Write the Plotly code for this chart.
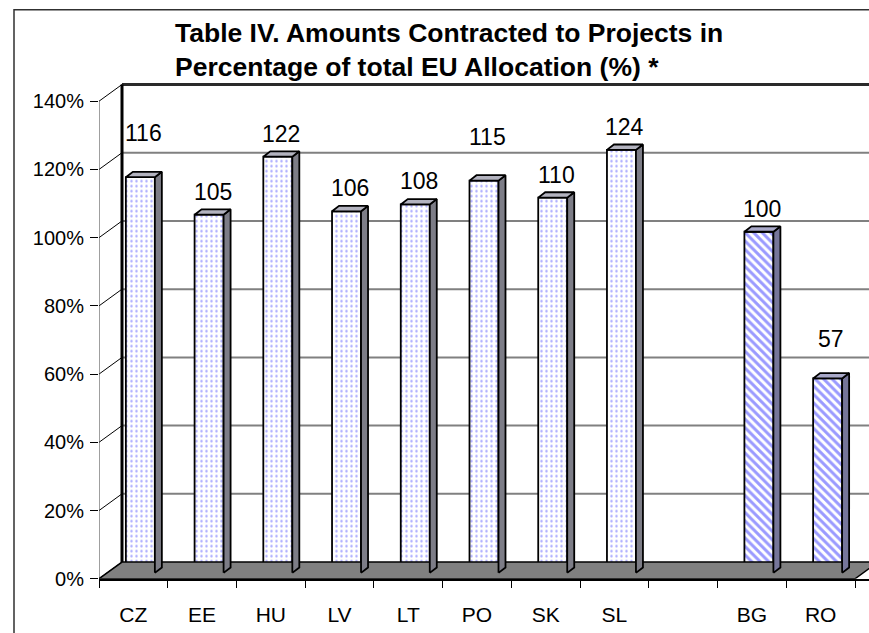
import plotly.graph_objects as go

# ---------------- data ----------------
categories = ["CZ", "EE", "HU", "LV", "LT", "PO", "SK", "SL", "", "BG", "RO"]
values = [116, 105, 122, 106, 108, 115, 110, 124, None, 100, 57]
groups = ["member"] * 8 + [None] + ["candidate"] * 2
y_ticks = [0, 20, 40, 60, 80, 100, 120, 140]
title_lines = ["Table IV. Amounts Contracted to Projects in",
               "Percentage of total EU Allocation (%) *"]

# ---------------- geometry / style ----------------
W, H = 869, 633
X0PX, XPX = 99, 68.727          # left edge of category axis, px per category
Y0PX, YPX = 589, 3.4714         # px of 0 %, px per 1 %
TOPPX = 80
xmax = -0.5 + (W - X0PX) / XPX
ymax = (Y0PX - TOPPX) / YPX

def ux(px):
    return px / XPX

def uy(px):
    return px / YPX

DX, DY = ux(23), uy(17)          # wall depth
BX, BY = ux(7), uy(6)            # bar offset into depth (front face)
BDX, BDY = ux(7), uy(5.5)        # bar depth
BW = ux(29)                      # bar front width

styles = {
    "member": dict(shape=".", front=("#ffffff", "#a8a8ff"), side="#7d7d87",
                   top="#b3b3bf", size=5, solidity=0.18),
    "candidate": dict(shape="\\", front=("#ffffff", "#9a9aff"), side="#76769a",
                      top="#a9a9c9", size=6, solidity=0.5),
}

fig = go.Figure()
shapes = []

# floor
fig.add_trace(go.Scatter(
    x=[-0.5, 10.5, 10.5 + DX, -0.5 + DX, -0.5], y=[0, 0, DY, DY, 0],
    fill="toself", fillcolor="#808080", mode="lines",
    line=dict(color="#000000", width=1.5), hoverinfo="skip", showlegend=False))

# back wall gridlines
for v in y_ticks[1:-1]:
    shapes.append(dict(type="line", xref="x", yref="y", layer="below",
                       x0=-0.5 + DX, x1=xmax, y0=v + DY, y1=v + DY,
                       line=dict(color="#808080", width=2)))
# back wall edges
shapes.append(dict(type="line", xref="x", yref="y", layer="below",
                   x0=-0.5 + DX, x1=xmax, y0=y_ticks[-1] + DY, y1=y_ticks[-1] + DY,
                   line=dict(color="#2a2a2a", width=3)))
shapes.append(dict(type="line", xref="x", yref="y", layer="below",
                   x0=-0.5 + DX, x1=-0.5 + DX, y0=DY, y1=y_ticks[-1] + DY,
                   line=dict(color="#000000", width=3)))
# side wall diagonals
for v in y_ticks:
    shapes.append(dict(type="line", xref="x", yref="y", layer="below",
                       x0=-0.5, x1=-0.5 + DX, y0=v, y1=v + DY,
                       line=dict(color="#000000", width=1)))
shapes.append(dict(type="line", xref="x", yref="y", layer="below",
                   x0=-0.5, x1=-0.5, y0=0, y1=y_ticks[-1],
                   line=dict(color="#404040", width=1)))
# outer chart frame
shapes.append(dict(type="rect", xref="paper", yref="paper",
                   x0=14 / W, x1=1.1, y0=-0.1, y1=1 - 10 / H,
                   line=dict(color="#303030", width=1.5)))

# bars
annotations = []
label_lift = {"CZ": 21, "PO": 21, "RO": 16}
for i, (cat, val, grp) in enumerate(zip(categories, values, groups)):
    if val is None:
        continue
    st = styles[grp]
    xl = i + BX - BW / 2
    xr = i + BX + BW / 2
    base = BY
    top = BY + val
    fig.add_trace(go.Bar(
        x=[i + BX], y=[val], base=[base], width=[BW],
        marker=dict(color=st["front"][0],
                    line=dict(color="#000000", width=1.8),
                    pattern=dict(shape=st["shape"], fgcolor=st["front"][1],
                                 bgcolor=st["front"][0], size=st["size"],
                                 solidity=st["solidity"], fillmode="replace")),
        hoverinfo="skip", showlegend=False))
    # side face
    fig.add_trace(go.Scatter(
        x=[xr, xr + BDX, xr + BDX, xr, xr], y=[base, base + BDY, top + BDY, top, base],
        fill="toself", fillcolor=st["side"], mode="lines",
        line=dict(color="#000000", width=1.8), hoverinfo="skip", showlegend=False))
    # top face
    fig.add_trace(go.Scatter(
        x=[xl, xr, xr + BDX, xl + BDX, xl], y=[top, top, top + BDY, top + BDY, top],
        fill="toself", fillcolor=st["top"], mode="lines",
        line=dict(color="#000000", width=1.8), hoverinfo="skip", showlegend=False))
    annotations.append(dict(
        x=i + BX + BDX / 2, y=top, xref="x", yref="y", text=str(val),
        showarrow=False, yanchor="middle", xanchor="center",
        yshift=23 + label_lift.get(cat, 0),
        font=dict(family="Liberation Sans, Arial, sans-serif", size=23, color="#000000")))

# title
annotations.append(dict(
    x=173 / W, y=1 - 16 / H, xref="paper", yref="paper", xanchor="left", yanchor="top",
    align="left", showarrow=False,
    text="<b>" + "<br>".join(title_lines) + "</b>",
    font=dict(family="Liberation Sans, Arial, sans-serif", size=26.5, color="#000000")))

tick_idx = [i for i, c in enumerate(categories) if c]
fig.update_layout(
    width=W, height=H,
    margin=dict(l=0, r=0, t=0, b=0),
    paper_bgcolor="#ffffff", plot_bgcolor="rgba(0,0,0,0)",
    shapes=shapes, annotations=annotations, showlegend=False,
    barmode="overlay",
    font=dict(family="Liberation Sans, Arial, sans-serif", size=20, color="#000000"),
    xaxis=dict(domain=[X0PX / W, 1], range=[-0.5, xmax], showgrid=False, zeroline=False,
               tickmode="array", tickvals=tick_idx, ticktext=[categories[i] for i in tick_idx],
               ticks="", showline=True, linecolor="#000000", linewidth=1.5,
               tickfont=dict(size=21), ticklabelstandoff=16,
               minor=dict(tickmode="linear", tick0=-0.5, dtick=1, ticks="outside",
                          ticklen=7, tickcolor="#000000", tickwidth=1, showgrid=False)),
    yaxis=dict(domain=[(H - Y0PX) / H, (H - TOPPX) / H], range=[0, ymax],
               showgrid=False, zeroline=False, showline=False,
               tickmode="array", tickvals=y_ticks, ticktext=[f"{v}%" for v in y_ticks],
               ticks="outside", ticklen=8, tickcolor="#000000", tickwidth=1,
               tickfont=dict(size=20), ticklabelstandoff=2),
)

fig.write_html("out.html", config={"displayModeBar": False},
               post_script="document.body.style.margin='0px';")
